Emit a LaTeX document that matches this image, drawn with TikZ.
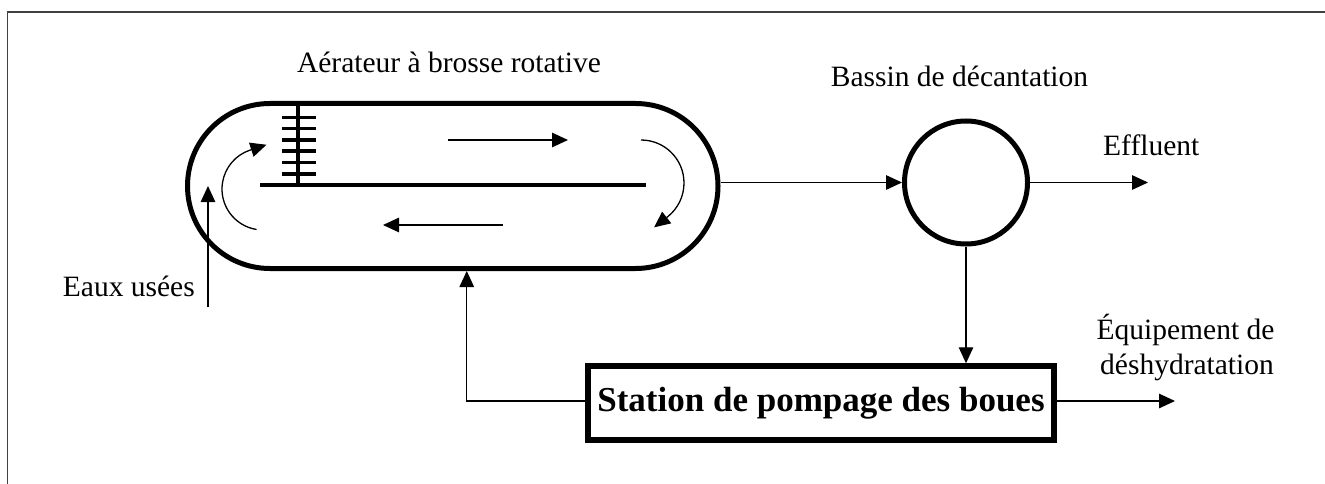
\documentclass[tikz,border=0pt]{standalone}
\usepackage{fontspec}
\setmainfont{Liberation Serif}
\usetikzlibrary{arrows.meta}
\begin{document}
\begin{tikzpicture}[x=1pt,y=-1pt,
  outline/.style={draw=black, line width=5pt, inner sep=0pt},
  flow/.style={draw=black, line width=1.3pt, -{Triangle[length=16pt,width=14.5pt]}},
  txt/.style={font=\fontsize{29.5}{35}\selectfont, inner sep=0pt},
  bar/.style={line width=4pt},
  bristle/.style={line width=3.5pt},
]
\useasboundingbox (0,0) rectangle (1325,484);
% frame
\draw[line width=1.3pt, draw=black!75] (7.3,484) -- (7.3,12) -- (1325,12);

% oxidation ditch (racetrack)
\node[outline, rectangle, rounded corners=82.5pt,
      minimum width=530.5pt, minimum height=165pt] (aer) at (452.75,186) {};
% central divider
\draw[bar] (260,185) -- (646,185);
% rotating brush
\draw[bar] (298,103.5) -- (298,185);
\foreach \ty in {117.3,128.6,139.9,151.2,162.5,173.8}
  \draw[bristle] (282,\ty) -- (316,\ty);
% circulation arrows
\draw[flow] (448,140) -- (568,140);
\draw[flow] (503,225) -- (383,225);
\draw[flow] (263,189) ++(99:41) arc (99:252:41) -- ++(342:17);
\draw[flow] (641,183) ++(-90:43) arc (-90:52:43) -- ++(142:17);

% settling tank
\node[outline, circle, minimum size=123pt] (dec) at (966,182.5) {};

% sludge pumping station
\node[outline, line width=5.5pt, rectangle, minimum width=466pt, minimum height=74pt,
      font=\bfseries\fontsize{35}{40}\selectfont] (pump) at (821,403)
      {Station de pompage des boues};

% labels
\node[txt, anchor=base] (titre) at (449,73) {Aérateur à brosse rotative};
\node[txt, anchor=base] (bassin) at (959.5,87) {Bassin de décantation};
\node[txt, anchor=base west] (eff) at (1103,156) {Effluent};
\node[txt, anchor=base] (equipA) at (1185.5,339) {Équipement de};
\node[txt, anchor=base] (equipB) at (1187,374) {déshydratation};
\node[txt, anchor=base east] (eaux) at (195,296) {Eaux usées};

% free ends
\coordinate (effend) at (1148,182.5);
\coordinate (dewend) at (1175,401);
\coordinate (eauxstart) at (208,307);

% flows between units
\draw[flow] (eauxstart) -- ([xshift=23pt]aer.west);
\draw[flow] (dec.west -| aer.east) -- (dec.west);
\draw[flow] (dec.east) -- (effend);
\draw[flow] (dec.south) -- (dec.south |- pump.north);
\draw[flow] ([yshift=2pt]pump.east) -- (dewend);
\draw[flow] ([yshift=2pt]pump.west) -| ([xshift=14pt]aer.south);
\end{tikzpicture}
\end{document}
